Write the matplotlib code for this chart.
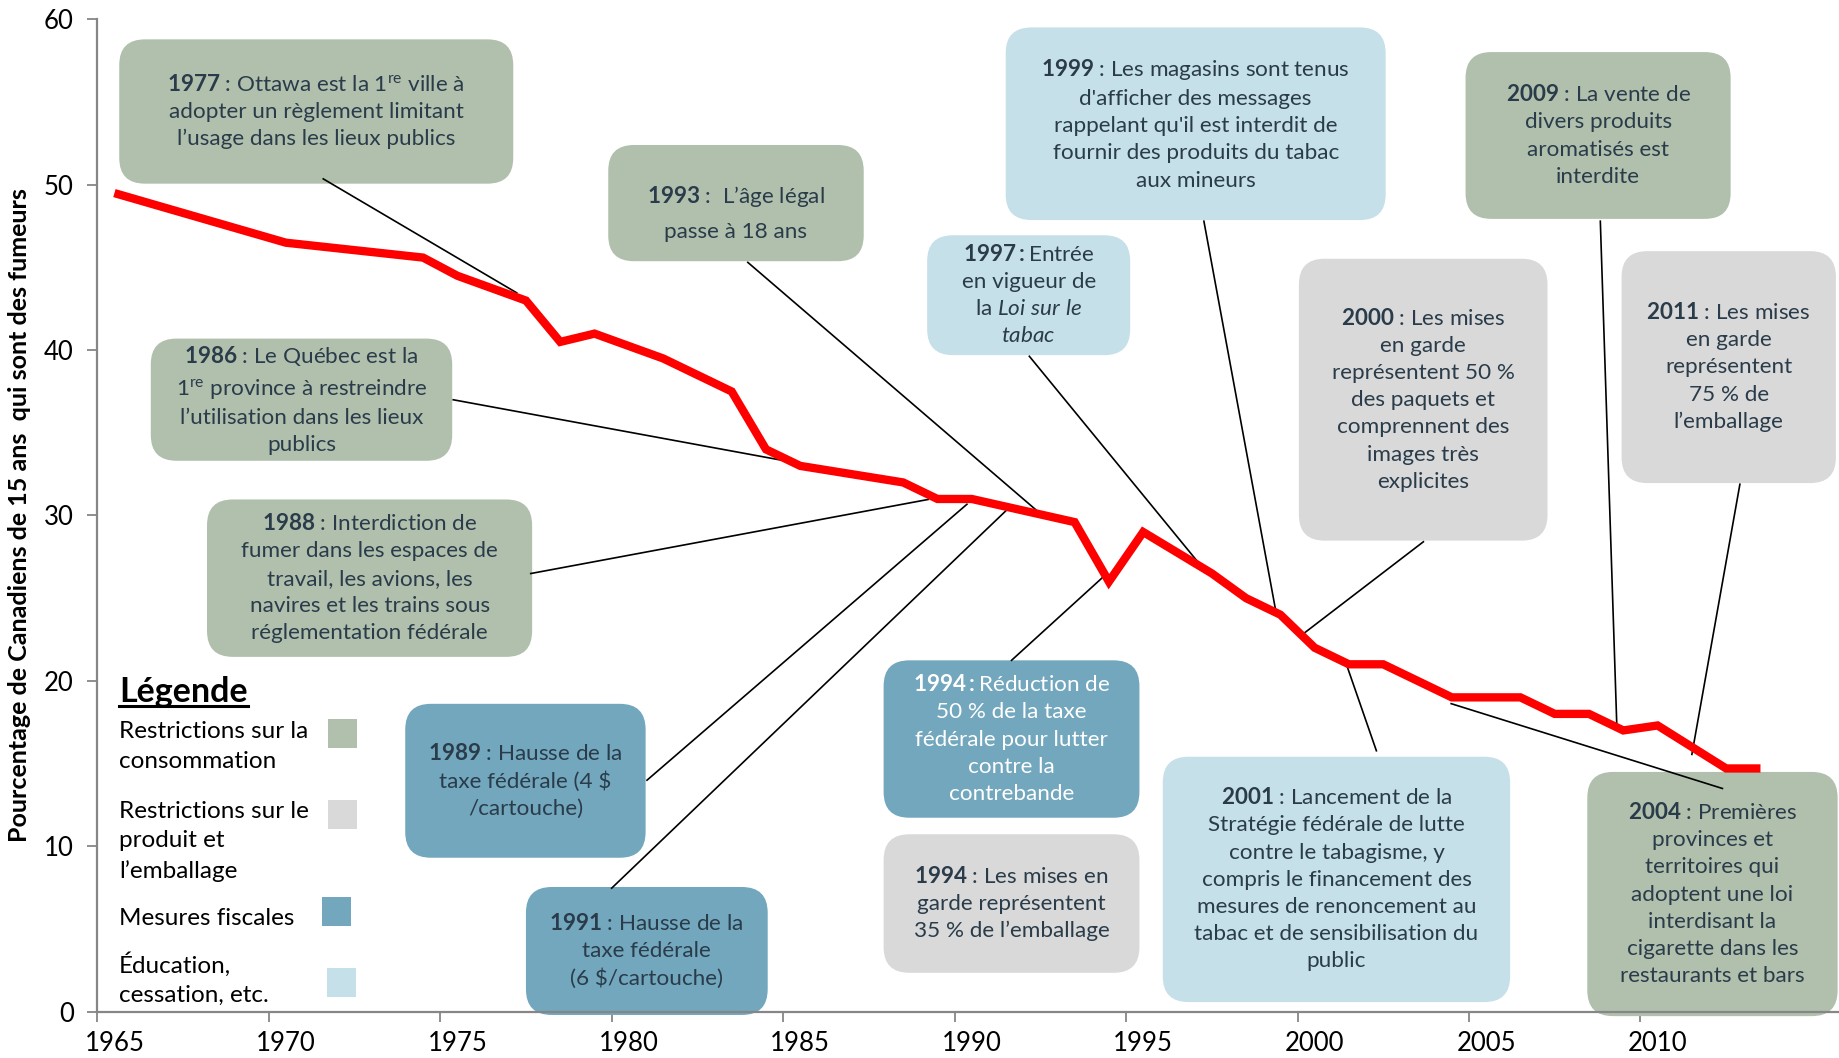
import matplotlib
matplotlib.use("Agg")
import matplotlib.pyplot as plt
from matplotlib.patches import FancyBboxPatch, Rectangle

plt.rcParams["font.family"] = ["Lato", "DejaVu Sans"]
plt.rcParams["mathtext.fontset"] = "custom"
plt.rcParams["mathtext.rm"] = "Lato"
plt.rcParams["mathtext.bf"] = "Lato:bold"
plt.rcParams["mathtext.it"] = "Lato:italic"
plt.rcParams["mathtext.default"] = "regular"

# percentage of Canadians 15+ who smoke
years = [1965, 1970, 1974, 1975, 1977, 1978, 1979, 1981, 1983, 1984, 1985, 1988,
         1989, 1990, 1993, 1994, 1995, 1997, 1998, 1999, 2000, 2001, 2002, 2004,
         2006, 2007, 2008, 2009, 2010, 2011, 2012, 2013]
smokers_pct = [49.5, 46.5, 45.6, 44.5, 43.0, 40.5, 41.0, 39.5, 37.5, 34.0, 33.0, 32.0,
               31.0, 31.0, 29.6, 26.0, 29.0, 26.5, 25.0, 24.0, 22.0, 21.0, 21.0, 19.0,
               19.0, 18.0, 18.0, 17.0, 17.3, 16.0, 14.7, 14.7]

year_ticks = [1965, 1970, 1975, 1980, 1985, 1990, 1995, 2000, 2005, 2010]
pct_ticks = [0, 10, 20, 30, 40, 50, 60]

SAGE = "#b1c0ad"
GREY = "#d9d9d9"
BLUE = "#72a7bd"
PALE = "#c5e0e8"
INK = "#2a3c4a"

legend_labels = ["Restrictions sur la\nconsommation",
                 "Restrictions sur le\nproduit et\nl’emballage",
                 "Mesures fiscales",
                 "Éducation,\ncessation, etc."]
legend_colours = [SAGE, GREY, BLUE, PALE]

# event boxes: colour, (x0, x1, y0, y1), text, connector (box end -> curve end)
events = [
    (SAGE, (1965.14, 1976.63, 50.07, 58.80),
     "$\\mathbf{1977}$ : Ottawa est la $1^{\\mathrm{re}}$ ville à\nadopter un règlement limitant\nl’usage dans les lieux publics",
     (1971.09, 50.36, 1976.73, 43.47)),
    (SAGE, (1979.40, 1986.85, 45.38, 52.41),
     "$\\mathbf{1993}$ :  L’âge légal\npasse à 18 ans",
     (1983.47, 45.31, 1992.12, 29.90)),
    (PALE, (1990.99, 2002.07, 47.87, 59.52),
     "$\\mathbf{1999}$ : Les magasins sont tenus\nd'afficher des messages\nrappelant qu'il est interdit de\nfournir des produits du tabac\naux mineurs",
     (1996.77, 47.80, 1998.86, 24.29)),
    (SAGE, (2004.40, 2012.13, 47.94, 58.03),
     "$\\mathbf{2009}$ : La vente de\ndivers produits\naromatisés est\ninterdite",
     (2008.33, 47.80, 2008.81, 17.33)),
    (PALE, (1988.70, 1994.62, 39.70, 46.95),
     "$\\mathbf{1997:}$Entrée\nen vigueur de\nla $\\mathit{Loi\\ sur\\ le}$\n$\\mathit{tabac}$",
     (1991.68, 39.63, 1996.87, 26.49)),
    (GREY, (1999.54, 2006.79, 28.48, 45.53),
     "$\\mathbf{2000}$ : Les mises\nen garde\nreprésentent 50 %\ndes paquets et\ncomprennent des\nimages très\nexplicites",
     (2003.17, 28.41, 1999.64, 22.80)),
    (GREY, (2008.95, 2015.20, 31.96, 45.99),
     "$\\mathbf{2011}$ : Les mises\nen garde\nreprésentent\n75 % de\nl’emballage",
     (2012.40, 31.89, 2011.00, 15.55)),
    (SAGE, (1966.06, 1974.85, 33.31, 40.70),
     "$\\mathbf{1986}$ : Le Québec est la\n$1^{\\mathrm{re}}$ province à restreindre\nl’utilisation dans les lieux\npublics",
     (1974.88, 37.00, 1984.73, 33.24)),
    (SAGE, (1967.70, 1977.18, 21.45, 30.97),
     "$\\mathbf{1988}$ : Interdiction de\nfumer dans les espaces de\ntravail, les avions, les\nnavires et les trains sous\nréglementation fédérale",
     (1977.14, 26.49, 1988.73, 30.97)),
    (BLUE, (1973.48, 1980.49, 9.30, 18.61),
     "$\\mathbf{1989}$ : Hausse de la\ntaxe fédérale (4 \\$\n/cartouche)",
     (1980.53, 13.99, 1989.86, 30.68)),
    (BLUE, (1977.00, 1984.05, -0.21, 7.53),
     "$\\mathbf{1991}$ : Hausse de la\ntaxe fédérale\n(6 \\$/cartouche)",
     (1979.50, 7.46, 1991.16, 30.61)),
    (BLUE, (1987.43, 1994.89, 11.72, 21.24),
     "$\\mathbf{1994:}$Réduction de\n50 % de la taxe\nfédérale pour lutter\ncontre la\ncontrebande",
     (1991.16, 21.24, 1993.83, 26.28)),
    (GREY, (1987.43, 1994.89, 2.34, 10.72),
     "$\\mathbf{1994}$ : Les mises en\ngarde représentent\n35 % de l’emballage",
     None),
    (PALE, (1995.57, 2005.70, 0.57, 15.41),
     "$\\mathbf{2001}$ : Lancement de la\nStratégie fédérale de lutte\ncontre le tabagisme, y\ncompris le financement des\nmesures de renoncement au\ntabac et de sensibilisation du\npublic",
     (2001.80, 15.77, 2000.89, 21.21)),
    (SAGE, (2007.95, 2015.25, -0.28, 14.49),
     "$\\mathbf{2004}$ : Premières\nprovinces et\nterritoires qui\nadoptent une loi\ninterdisant la\ncigarette dans les\nrestaurants et bars",
     (2011.89, 13.49, 2003.98, 18.62)),
]

fig = plt.figure(figsize=(18.39, 10.58), dpi=100)
ax = fig.add_axes([0.0529, 0.04395, 0.9471, 0.93762])
ax.set_xlim(1964.5, 2015.29)
ax.set_ylim(0, 60)

# keep rounded corners circular in this non-square data space
px_x = ax.transData.transform((1, 0))[0] - ax.transData.transform((0, 0))[0]
px_y = ax.transData.transform((0, 1))[1] - ax.transData.transform((0, 0))[1]
aspect = px_x / px_y

for colour, (x0, x1, y0, y1), text, link in events:
    box = FancyBboxPatch((x0, y0), x1 - x0, y1 - y0,
                         boxstyle="round,pad=0,rounding_size=0.75",
                         mutation_aspect=aspect, facecolor=colour,
                         edgecolor="none", zorder=2, clip_on=False)
    ax.add_patch(box)
    ty = (y0 + y1) / 2
    spacing = 1.45
    if text.startswith("$\\mathbf{1993}"):
        ty -= 0.6
        spacing = 1.8
    ax.text((x0 + x1) / 2, ty, text, ha="center", va="center",
            multialignment="center", fontsize=16.2, linespacing=spacing,
            color="white" if "Réduction" in text else INK,
            zorder=5, clip_on=False)
    if link is not None:
        ax.plot([link[0], link[2]], [link[1], link[3]], color="black",
                lw=1.2, zorder=3, clip_on=False)

ax.plot(years, smokers_pct, color="#ff0000", lw=6, zorder=4,
        solid_joinstyle="miter", solid_capstyle="butt")

for s in ["top", "right"]:
    ax.spines[s].set_visible(False)
for s in ["left", "bottom"]:
    ax.spines[s].set_color("#868686")
    ax.spines[s].set_linewidth(1.6)

ax.set_yticks(pct_ticks)
ax.tick_params(axis="y", length=7, width=1.3, color="#868686", pad=10, labelsize=18.5)
ax.set_xticks([y - 0.5 for y in year_ticks])
ax.set_xticklabels([])
ax.set_xticks(year_ticks, minor=True)
ax.set_xticklabels([str(y) for y in year_ticks], minor=True)
ax.tick_params(axis="x", which="major", length=7, width=1.3, color="#868686")
ax.tick_params(axis="x", which="minor", length=0, pad=14, labelsize=18.5)

fig.text(0.0105, 0.5128, "Pourcentage de Canadiens de 15 ans  qui sont des fumeurs",
         rotation=90, ha="center", va="center", fontsize=18, fontweight="bold")

# legend
title = ax.text(1965.14, 19.32, "Légende", fontsize=24.5, fontweight="bold",
                ha="left", va="center", zorder=5)
legend_y = [16.03, 10.3, 5.61, 1.95]
square_x = [1971.22, 1971.22, 1971.05, 1971.19]
square_y = [15.91, 11.01, 5.18, 0.85]
for lab, col, ly, sx, sy in zip(legend_labels, legend_colours, legend_y, square_x, square_y):
    ax.text(1965.14, ly, lab, fontsize=17.5, ha="left", va="center",
            linespacing=1.5, zorder=5)
    ax.add_patch(Rectangle((sx, sy), 0.86, 1.77, facecolor=col,
                           edgecolor="none", zorder=5))

fig.canvas.draw()
bb = title.get_window_extent().transformed(ax.transData.inverted())
ax.plot([bb.x0, bb.x1], [bb.y0 + 0.15, bb.y0 + 0.15], color="black", lw=2.2, zorder=5)

fig.savefig("out.png", dpi=100)
